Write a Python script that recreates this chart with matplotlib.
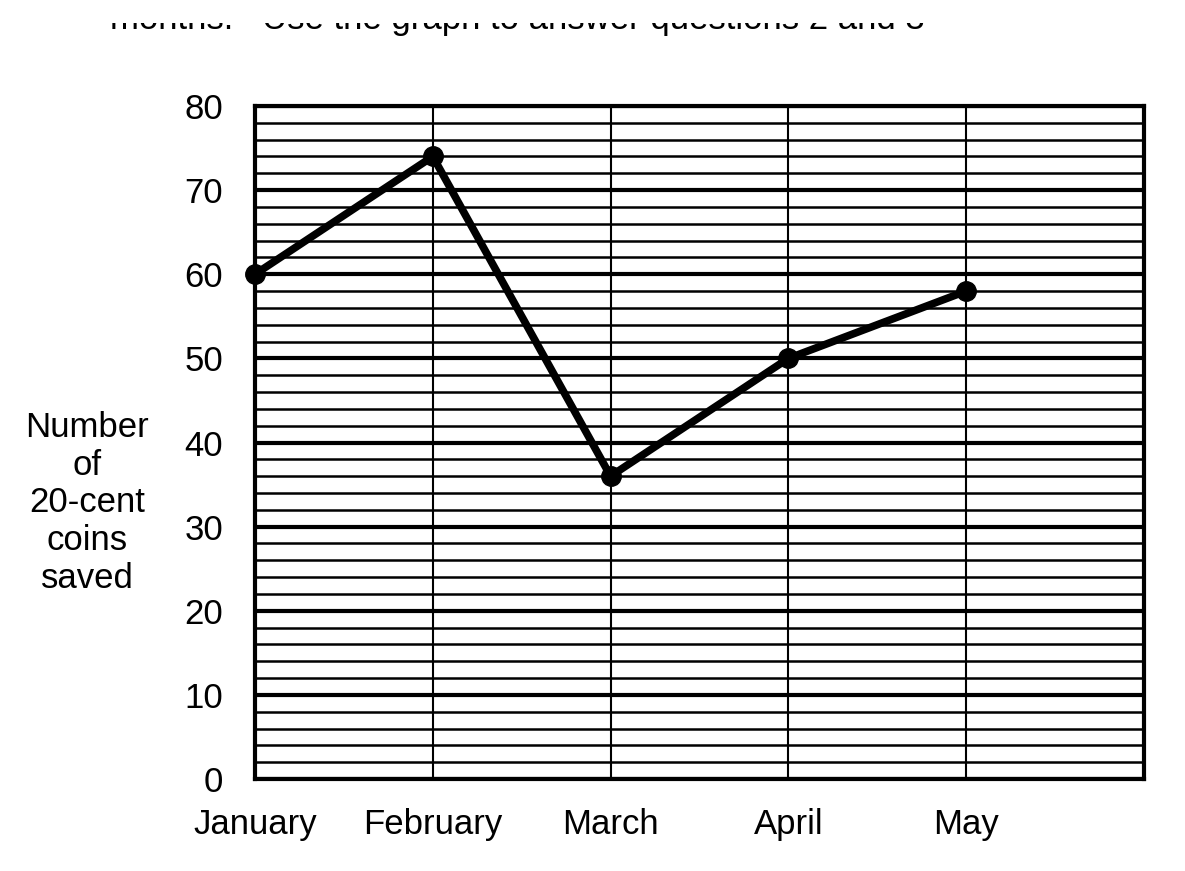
import matplotlib
matplotlib.use("Agg")
import matplotlib.pyplot as plt
import matplotlib.patches as mp
import numpy as np

plt.rcParams["font.family"] = ["Liberation Sans", "DejaVu Sans"]

months = ["January", "February", "March", "April", "May"]
coins = [60, 74, 36, 50, 58]
y_major = [0, 10, 20, 30, 40, 50, 60, 70, 80]

fig = plt.figure(figsize=(11.85, 8.71), dpi=100)
ax = fig.add_axes([255 / 1185, 1 - 779 / 871, (1144 - 255) / 1185, (779 - 106) / 871])

x = np.arange(len(months))
ax.set_xlim(0, 5)
ax.set_ylim(0, 80)

# grid: thin lines every 2, thick every 10, thin verticals at each month
for v in range(0, 81, 2):
    if v % 10 == 0:
        ax.axhline(v, color="black", lw=3.0, zorder=1)
    else:
        ax.axhline(v, color="black", lw=1.8, zorder=1)
for xi in range(1, 5):
    ax.axvline(xi, color="black", lw=1.5, zorder=1)

ax.plot(x, coins, color="black", lw=5.5, marker="o", ms=14, zorder=3,
        solid_capstyle="round", clip_on=False)

for s in ax.spines.values():
    s.set_linewidth(3)

ax.set_yticks(y_major)
ax.set_yticklabels([str(v) for v in y_major], fontsize=25)
ax.set_xticks(x)
ax.set_xticklabels(months, fontsize=25)
ax.tick_params(axis="y", length=0, pad=23)
ax.tick_params(axis="x", length=0, pad=21)

fig.text(87 / 1185, 1 - 503 / 871, "Number\nof\n20-cent\ncoins\nsaved",
         ha="center", va="center", fontsize=25, linespacing=1.19)

# partially cut header line from the source page (only its lower edge shows)
fig.text(110 / 1185, 1 - 29 / 871, "months.   Use the graph to answer questions 2 and 3",
         ha="left", va="baseline", fontsize=25, zorder=1)
fig.add_artist(mp.Rectangle((0, 1 - 23 / 871), 1, 23 / 871, transform=fig.transFigure,
                            facecolor="white", edgecolor="none", zorder=100))

fig.savefig("out.png", dpi=100)
